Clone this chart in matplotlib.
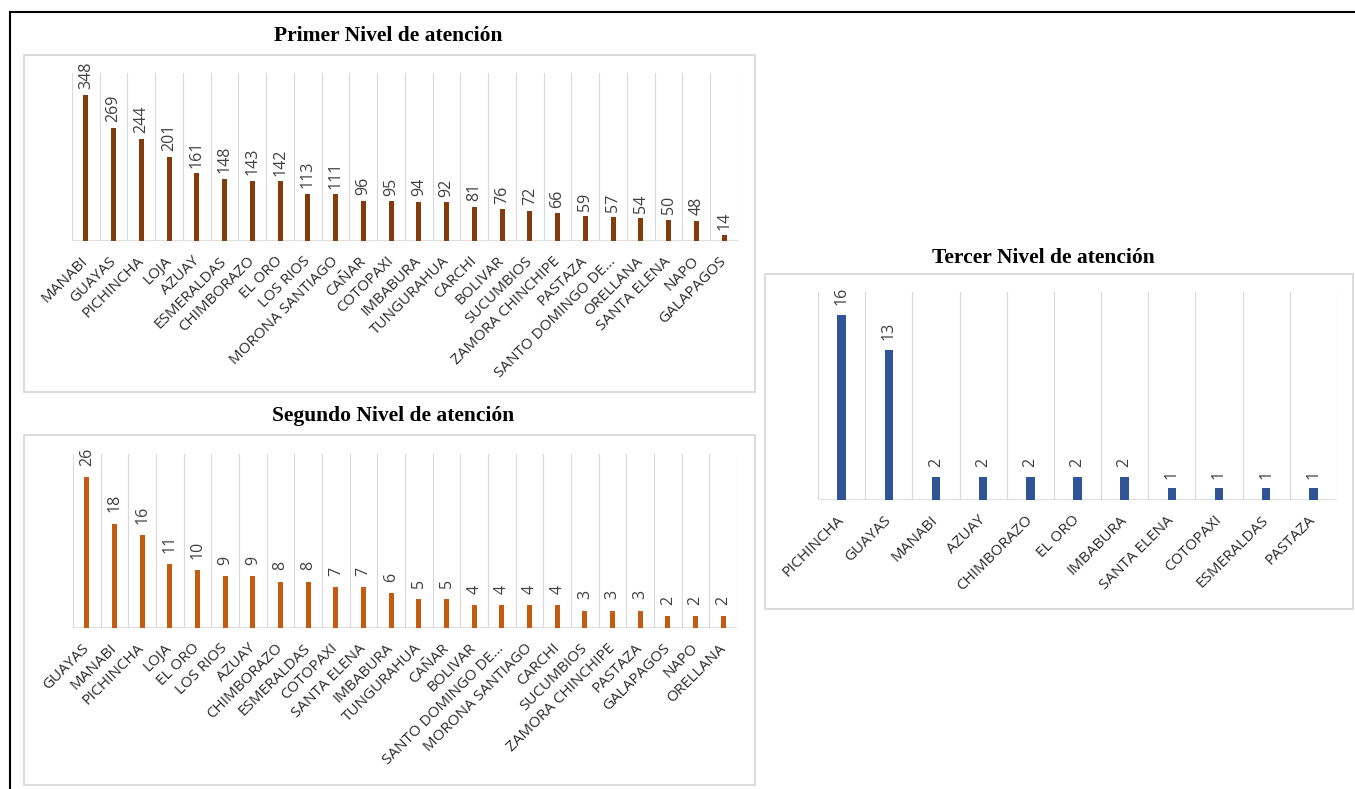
import matplotlib
matplotlib.use("Agg")

import matplotlib.pyplot as plt
from matplotlib.patches import Rectangle
from matplotlib.lines import Line2D

# figure size in pixels
W, H = 1355, 789

# primer nivel de atencion
primer_labels = ["MANABI", "GUAYAS", "PICHINCHA", "LOJA", "AZUAY", "ESMERALDAS",
                 "CHIMBORAZO", "EL ORO", "LOS RIOS", "MORONA SANTIAGO", "CAÑAR",
                 "COTOPAXI", "IMBABURA", "TUNGURAHUA", "CARCHI", "BOLIVAR",
                 "SUCUMBIOS", "ZAMORA CHINCHIPE", "PASTAZA", "SANTO DOMINGO DE...",
                 "ORELLANA", "SANTA ELENA", "NAPO", "GALAPAGOS"]
primer_values = [348, 269, 244, 201, 161, 148, 143, 142, 113, 111, 96, 95, 94, 92,
                 81, 76, 72, 66, 59, 57, 54, 50, 48, 14]

# segundo nivel de atencion
segundo_labels = ["GUAYAS", "MANABI", "PICHINCHA", "LOJA", "EL ORO", "LOS RIOS",
                  "AZUAY", "CHIMBORAZO", "ESMERALDAS", "COTOPAXI", "SANTA ELENA",
                  "IMBABURA", "TUNGURAHUA", "CAÑAR", "BOLIVAR", "SANTO DOMINGO DE...",
                  "MORONA SANTIAGO", "CARCHI", "SUCUMBIOS", "ZAMORA CHINCHIPE",
                  "PASTAZA", "GALAPAGOS", "NAPO", "ORELLANA"]
segundo_values = [26, 18, 16, 11, 10, 9, 9, 8, 8, 7, 7, 6, 5, 5, 4, 4, 4, 4, 3, 3, 3,
                  2, 2, 2]

# tercer nivel de atencion
tercer_labels = ["PICHINCHA", "GUAYAS", "MANABI", "AZUAY", "CHIMBORAZO", "EL ORO",
                 "IMBABURA", "SANTA ELENA", "COTOPAXI", "ESMERALDAS", "PASTAZA"]
tercer_values = [16, 13, 2, 2, 2, 2, 2, 1, 1, 1, 1]

GRID = "#D9D9D9"
TEXT = "#404040"
TICK_TEXT = "#2B2B2B"
LABEL_FONT = ["Open Sans", "DejaVu Sans"]
TITLE_FONT = ["Liberation Serif", "DejaVu Serif"]


def px_rect(left, top, right, bottom):
    # pixel box -> figure fraction [x, y, w, h]
    return [left / W, 1 - bottom / H, (right - left) / W, (bottom - top) / H]


def draw_panel(fig, box, axrect, title, title_xy, labels, values, ymax, color,
               width=0.18, label_gap=4):
    # light frame around the chart
    l, t, r, b = box
    fig.patches.append(Rectangle((l / W, 1 - b / H), (r - l) / W, (b - t) / H,
                                 transform=fig.transFigure, fill=False,
                                 edgecolor=GRID, linewidth=1.3))
    fig.text(title_xy[0] / W, 1 - title_xy[1] / H, title, ha="center", va="center",
             fontsize=15.5, fontweight="bold", family=TITLE_FONT, color="black")

    ax = fig.add_axes(px_rect(*axrect))
    n = len(values)
    x = list(range(n))
    ax.bar(x, values, width=width, color=color, zorder=3)
    ax.set_xlim(-0.5, n - 0.5)
    ax.set_ylim(0, ymax)

    # vertical gridlines between categories
    for k in range(n + 1):
        ax.axvline(k - 0.5, color=GRID, linewidth=0.8, zorder=1)
    ax.axhline(0, color=GRID, linewidth=1.2, zorder=2)

    for xi, v in zip(x, values):
        ax.annotate(str(v), (xi, v), xytext=(0, label_gap), textcoords="offset points",
                    rotation=90, ha="center", va="bottom", fontsize=11.5,
                    family=LABEL_FONT, color=TEXT)

    ax.set_xticks(x)
    ax.set_xticklabels(labels, rotation=45, ha="right", va="center",
                       rotation_mode="anchor", fontsize=11, family=LABEL_FONT,
                       color=TICK_TEXT)
    ax.tick_params(axis="x", length=0, pad=13)
    ax.set_yticks([])
    for s in ax.spines.values():
        s.set_visible(False)
    ax.patch.set_alpha(0)
    return ax


fig = plt.figure(figsize=(W / 100, H / 100), dpi=100)
fig.patch.set_facecolor("white")

draw_panel(fig, (24, 55, 755, 392), (72, 73, 738, 241), "Primer Nivel de atención",
           (388, 36), primer_labels, primer_values, 400, "#843C0C", label_gap=4)
draw_panel(fig, (24, 435, 755, 785), (73, 454, 737, 628), "Segundo Nivel de atención",
           (393, 416), segundo_labels, segundo_values, 30, "#C55A11", label_gap=8)
draw_panel(fig, (765, 274, 1353, 609), (818, 292, 1337, 500), "Tercer Nivel de atención",
           (1043, 258), tercer_labels, tercer_values, 18, "#2F5597", label_gap=7)

# outer frame, top and left edges
fig.lines.append(Line2D([10 / W, 1], [1 - 11.5 / H, 1 - 11.5 / H],
                        transform=fig.transFigure, color="black", linewidth=1.5))
fig.lines.append(Line2D([10 / W, 10 / W], [1 - 11.5 / H, 0],
                        transform=fig.transFigure, color="black", linewidth=1.5))

fig.savefig("out.png", dpi=100)
